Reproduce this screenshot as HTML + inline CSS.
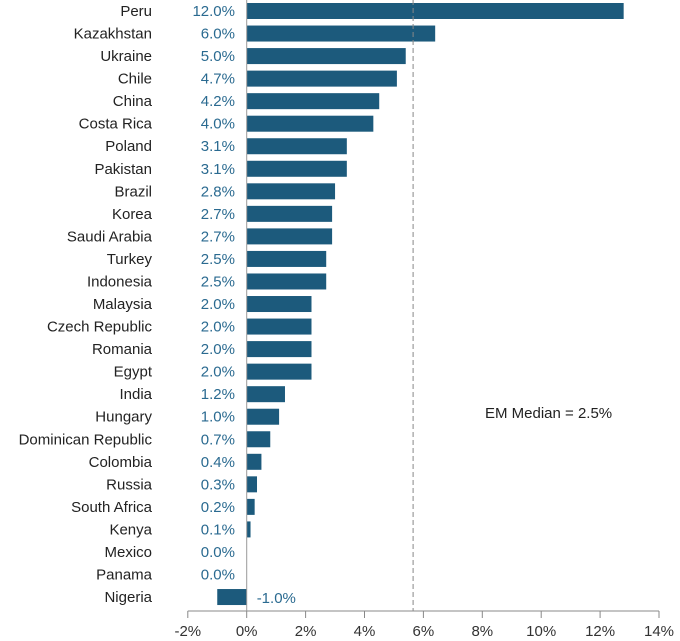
<!DOCTYPE html>
<html><head><meta charset="utf-8"><style>
body{margin:0;background:#fff;}
svg{display:block;font-family:"Liberation Sans",sans-serif;}
</style></head><body>
<svg id="c" width="680" height="641" viewBox="0 0 680 641"></svg>
<script>
const countries=["Peru","Kazakhstan","Ukraine","Chile","China","Costa Rica","Poland","Pakistan","Brazil","Korea","Saudi Arabia","Turkey","Indonesia","Malaysia","Czech Republic","Romania","Egypt","India","Hungary","Dominican Republic","Colombia","Russia","South Africa","Kenya","Mexico","Panama","Nigeria"];
const barValues=[12.8,6.4,5.4,5.1,4.5,4.3,3.4,3.4,3.0,2.9,2.9,2.7,2.7,2.2,2.2,2.2,2.2,1.3,1.1,0.8,0.5,0.35,0.27,0.13,0,0,-1.0];
const valueLabels=["12.0%","6.0%","5.0%","4.7%","4.2%","4.0%","3.1%","3.1%","2.8%","2.7%","2.7%","2.5%","2.5%","2.0%","2.0%","2.0%","2.0%","1.2%","1.0%","0.7%","0.4%","0.3%","0.2%","0.1%","0.0%","0.0%","-1.0%"];
const ticks=[-2,0,2,4,6,8,10,12,14];
const medianPos=5.65;
const medianLabel="EM Median = 2.5%";
const svg=document.getElementById('c');const NS='http://www.w3.org/2000/svg';
function x(v){return 246.7+v*29.45;}
function yc(i){return 11+i*22.54;}
function mk(t,a,p){const e=document.createElementNS(NS,t);for(const k in a)e.setAttribute(k,a[k]);(p||svg).appendChild(e);return e;}
const axisY=611;
ticks.forEach(t=>{
 const l=mk('line',{x1:x(t),x2:x(t),y1:axisY,y2:axisY+7,stroke:'#888','stroke-width':1});
 
 
 const tx=mk('text',{x:x(t),y:636,'text-anchor':'middle','font-size':15,fill:'#333'});tx.textContent=t+'%';
 
 
});
const ax=mk('line',{x1:x(-2),x2:x(14),y1:axisY,y2:axisY,stroke:'#888','stroke-width':1});


countries.forEach((c,i)=>{
 const v=barValues[i];const x0=Math.min(x(0),x(v));const w=Math.abs(x(v)-x(0));
 const r=mk('rect',{x:x0,y:yc(i)-8,width:w,height:16,fill:'#1c5a7c'});
 
 
 const t=mk('text',{x:152,y:yc(i)+5,'text-anchor':'end','font-size':15,fill:'#222'});t.textContent=c;
 
 
 const vl=v<0?mk('text',{x:x(0)+10,y:yc(i)+6,'text-anchor':'start','font-size':15,fill:'#2a6a90'}):mk('text',{x:235,y:yc(i)+5,'text-anchor':'end','font-size':15,fill:'#2a6a90'});
 vl.textContent=valueLabels[i];
 
 
});
const z=mk('line',{x1:x(0),x2:x(0),y1:0,y2:axisY,stroke:'#999','stroke-width':1});


const m=mk('line',{x1:x(medianPos),x2:x(medianPos),y1:0,y2:axisY,stroke:'#888','stroke-width':1,'stroke-dasharray':'5,3'});


const ml=mk('text',{x:485,y:418,'font-size':15,fill:'#222'});ml.textContent=medianLabel;


</script>
</body></html>
